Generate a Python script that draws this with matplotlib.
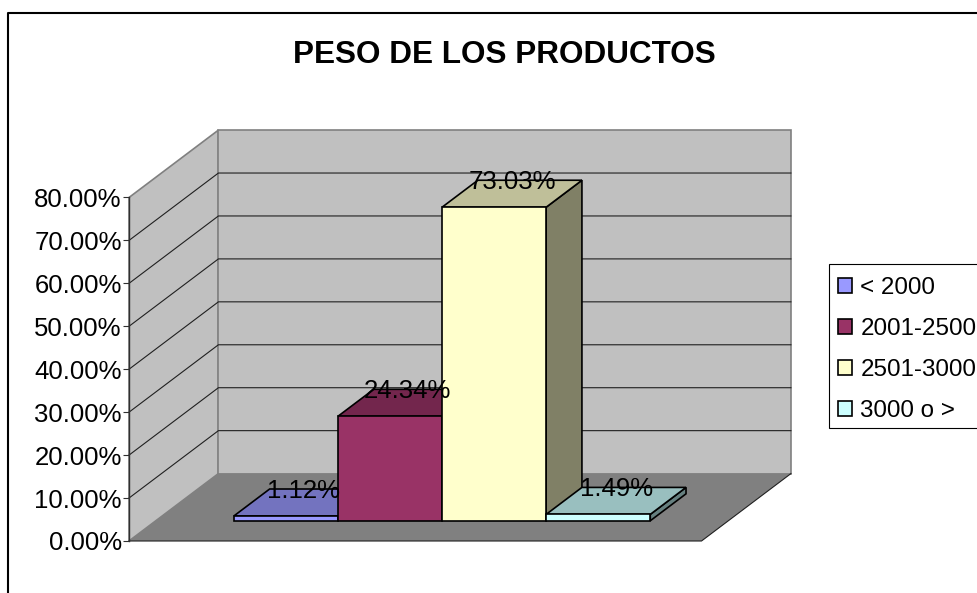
from __future__ import annotations

import matplotlib

matplotlib.use("Agg")
import matplotlib.pyplot as plt
from matplotlib.colors import to_rgb
from matplotlib.lines import Line2D
from matplotlib.patches import Patch, Polygon, Rectangle

plt.rcParams["font.family"] = ["Liberation Sans", "DejaVu Sans"]

CATEGORIES = ["< 2000", "2001-2500", "2501-3000", "3000 o >"]
VALUES = [1.12, 24.34, 73.03, 1.49]
COLORS = ["#9999FF", "#993366", "#FFFFCC", "#CCFFFF"]
Y_TICKS = [0, 10, 20, 30, 40, 50, 60, 70, 80]

FIG_W, FIG_H = 978, 593
# front plane of the 3D box, in pixels
FRONT_LEFT, FRONT_RIGHT, FRONT_BOTTOM, FRONT_TOP = 129, 701.5, 541, 197.5
# floor depth vector, in data units (one bar wide, one percent high)
DEPTH_X = 0.859
DEPTH_Y = 15.7
BAR_FRONT = 0.3
BAR_BACK = 0.7


def shade(color: str, factor: float) -> tuple[float, float, float]:
    return tuple(c * factor for c in to_rgb(color))


def depth_point(x: float, y: float, depth: float) -> tuple[float, float]:
    return x + depth * DEPTH_X, y + depth * DEPTH_Y


def face(ax, corners, color, edge, lw=1.2, zorder=2) -> None:
    ax.add_patch(
        Polygon(
            corners,
            closed=True,
            facecolor=color,
            edgecolor=edge,
            linewidth=lw,
            joinstyle="miter",
            clip_on=False,
            zorder=zorder,
        )
    )


def draw_box(ax, x_min: float, x_max: float, y_max: float) -> None:
    back = lambda x, y: depth_point(x, y, 1.0)
    face(ax, [(x_min, 0), (x_min, y_max), back(x_min, y_max), back(x_min, 0)],
         "#C0C0C0", "#808080", zorder=1)
    face(ax, [back(x_min, 0), back(x_min, y_max), back(x_max, y_max), back(x_max, 0)],
         "#C0C0C0", "#808080", zorder=1)
    face(ax, [(x_min, 0), (x_max, 0), back(x_max, 0), back(x_min, 0)],
         "#808080", "none", zorder=1)
    ax.plot([x_min, x_max, back(x_max, 0)[0]], [0, 0, back(x_max, 0)[1]],
            color="#202020", linewidth=0.8, clip_on=False, zorder=1.5)
    for tick in Y_TICKS[1:-1]:
        xs = [x_min, back(x_min, tick)[0], back(x_max, tick)[0]]
        ys = [tick, back(x_min, tick)[1], back(x_max, tick)[1]]
        ax.plot(xs, ys, color="#202020", linewidth=0.8, clip_on=False, zorder=1.5)


def draw_bar(ax, center: float, value: float, color: str) -> None:
    left, right = center - 0.5, center + 0.5
    front = lambda x, y: depth_point(x, y, BAR_FRONT)
    rear = lambda x, y: depth_point(x, y, BAR_BACK)
    face(ax, [front(right, 0), front(right, value), rear(right, value), rear(right, 0)],
         shade(color, 0.5), "black")
    face(ax, [front(left, value), front(right, value), rear(right, value), rear(left, value)],
         shade(color, 0.75), "black")
    face(ax, [front(left, 0), front(right, 0), front(right, value), front(left, value)],
         color, "black")


def main() -> None:
    fig = plt.figure(figsize=(FIG_W / 100, FIG_H / 100), dpi=100, facecolor="white")
    ax = fig.add_axes(
        [
            FRONT_LEFT / FIG_W,
            (FIG_H - FRONT_BOTTOM) / FIG_H,
            (FRONT_RIGHT - FRONT_LEFT) / FIG_W,
            (FRONT_BOTTOM - FRONT_TOP) / FIG_H,
        ]
    )
    ax.patch.set_visible(False)
    x_min, x_max = -1.25, len(VALUES) + 0.25
    ax.set_xlim(x_min, x_max)
    ax.set_ylim(Y_TICKS[0], Y_TICKS[-1])

    draw_box(ax, x_min, x_max, Y_TICKS[-1])
    for index, (value, color) in enumerate(zip(VALUES, COLORS)):
        draw_bar(ax, index, value, color)
    for index, value in enumerate(VALUES):
        x, _ = depth_point(index, value, 0.5)
        _, y = depth_point(index, value, BAR_BACK)
        ax.annotate(f"{value:.2f}%", (x, y), xytext=(0, -1.5), textcoords="offset points",
                    ha="center", va="center", fontsize=18.5, color="black", zorder=5,
                    annotation_clip=False)

    for side in ("top", "right", "bottom"):
        ax.spines[side].set_visible(False)
    ax.spines["left"].set_color("#303030")
    ax.spines["left"].set_linewidth(1.0)
    ax.spines["left"].set_zorder(3)
    ax.set_xticks([])
    ax.set_yticks(Y_TICKS)
    ax.set_yticklabels([f"{tick:.2f}%" for tick in Y_TICKS], fontsize=18.5)
    ax.tick_params(axis="y", length=4.2, width=0.8, color="#303030", pad=1)

    fig.text(504 / FIG_W, 1 - 55 / FIG_H, "PESO DE LOS PRODUCTOS", ha="center",
             va="center", fontsize=22.7, fontweight="bold")

    # outer chart frame runs past the right and bottom of the canvas
    frame_x = 8 / FIG_W
    frame_y = 1 - 12.5 / FIG_H
    fig.add_artist(Line2D([frame_x, frame_x, 1.01], [-0.01, frame_y, frame_y],
                          color="black", linewidth=1.5))

    # legend box is drawn on its own so it can run off the right edge
    fig.add_artist(
        Rectangle(
            (829 / FIG_W, 1 - 427.5 / FIG_H),
            0.2,
            163.5 / FIG_H,
            transform=fig.transFigure,
            facecolor="white",
            edgecolor="black",
            linewidth=0.8,
        )
    )
    handles = [Patch(facecolor=c, edgecolor="black", linewidth=1.2) for c in COLORS]
    fig.legend(
        handles,
        CATEGORIES,
        loc="upper left",
        bbox_to_anchor=(826 / FIG_W, 1 - 265 / FIG_H),
        borderaxespad=0,
        fontsize=17.4,
        frameon=False,
        handlelength=0.58,
        handleheight=0.58,
        handletextpad=0.34,
        borderpad=0.5,
        labelspacing=0.78,
    )

    fig.savefig("out.png", dpi=100)
    plt.close(fig)


if __name__ == "__main__":
    main()
